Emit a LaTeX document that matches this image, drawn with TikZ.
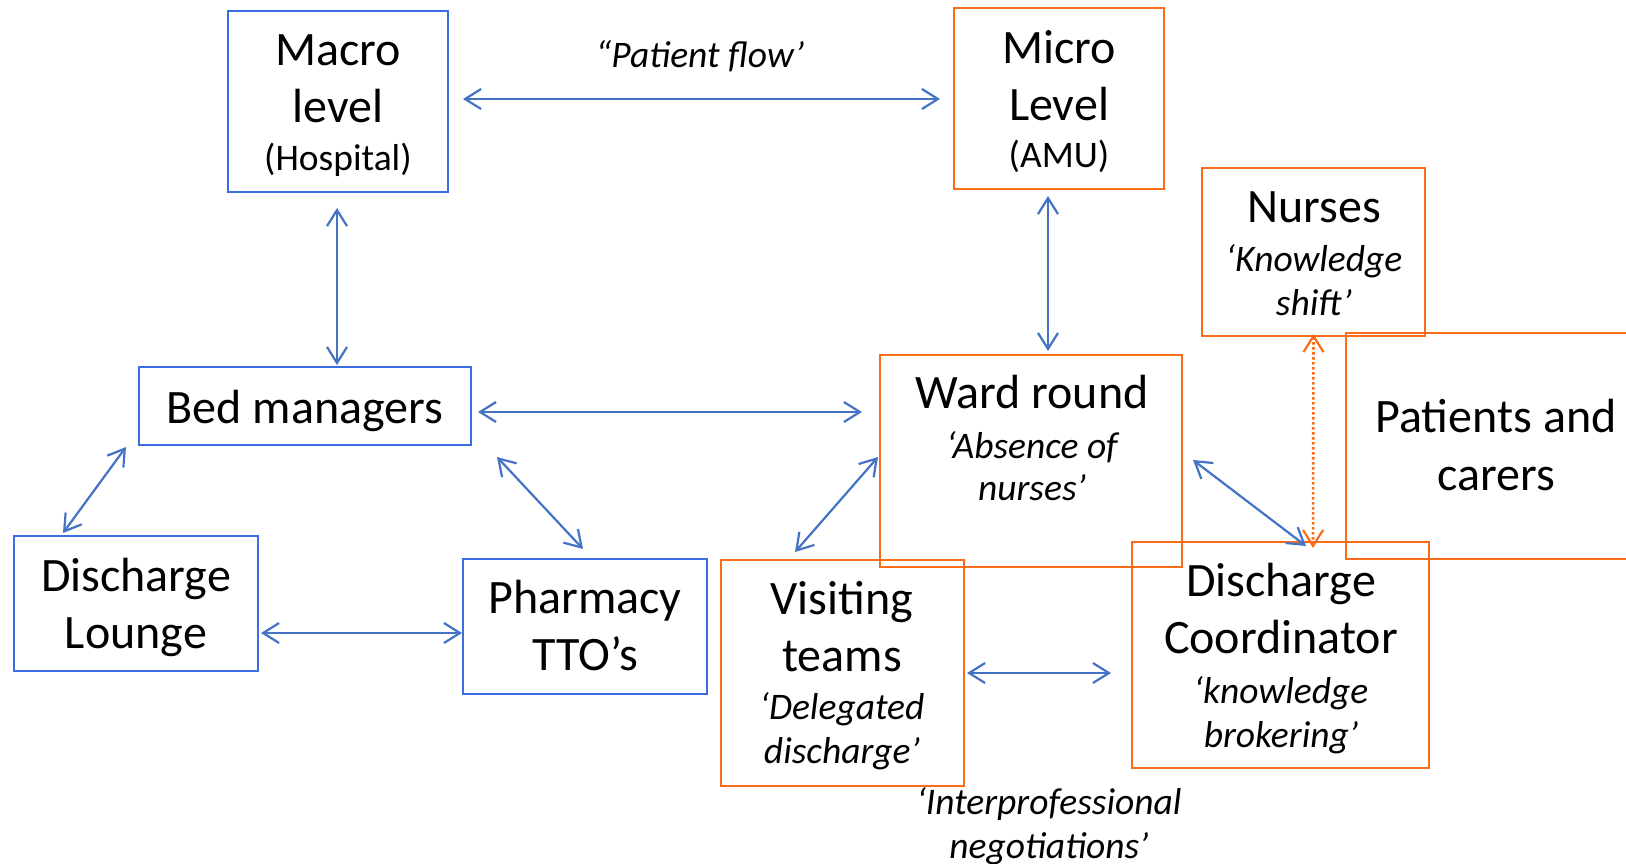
\documentclass[tikz,border=0pt]{standalone}
\usepackage{fontspec}
\setmainfont{Carlito}
\usetikzlibrary{arrows.meta}
\definecolor{boxblue}{RGB}{58,110,226}
\definecolor{arrblue}{RGB}{68,114,196}
\definecolor{orng}{RGB}{252,108,24}
\tikzset{
  bbox/.style={draw=boxblue, line width=2pt, inner sep=0pt},
  obox/.style={draw=orng, line width=2pt, inner sep=0pt},
  barr/.style={draw=arrblue, line width=2.2pt, {Straight Barb[length=16pt,width=20pt,line width=2.2pt]}-{Straight Barb[length=16pt,width=20pt,line width=2.2pt]}},
  oarr/.style={draw=orng, line width=2.6pt, dash pattern=on 2.5pt off 2.5pt, {Straight Barb[length=16pt,width=20pt,line width=2.2pt]}-{Straight Barb[length=16pt,width=20pt,line width=2.2pt]}},
  big/.style={anchor=base, inner sep=0pt, font=\fontsize{48}{56}\selectfont},
  sml/.style={anchor=base, inner sep=0pt, font=\fontsize{37.5}{44}\selectfont},
  ital/.style={anchor=base, inner sep=0pt, font=\fontsize{37.5}{44}\selectfont\itshape},
}
\begin{document}
\begin{tikzpicture}[x=1pt, y=-1pt]
\useasboundingbox (0,0) rectangle (1626,863);
% boxes
\node[bbox, minimum width=220pt, minimum height=181pt] (macro) at (338,101.5) {};
\node[obox, minimum width=210pt, minimum height=181pt] (micro) at (1059,98.5) {};
\node[obox, minimum width=223pt, minimum height=168pt] (nurses) at (1313.5,252) {};
\node[obox, minimum width=294pt, minimum height=226pt] (patients) at (1493,446) {};
\node[bbox, minimum width=332pt, minimum height=78pt] (bed) at (305,406) {};
\node[obox, minimum width=302pt, minimum height=212pt] (ward) at (1031,461) {};
\node[bbox, minimum width=244pt, minimum height=135pt] (lounge) at (136,603.5) {};
\node[bbox, minimum width=244pt, minimum height=135pt] (pharm) at (585,626.5) {};
\node[obox, minimum width=243pt, minimum height=226pt] (visit) at (842.5,673) {};
\node[obox, minimum width=297pt, minimum height=226pt] (dc) at (1280.5,655) {};
% texts
\node[big] (tmacro1) at (338,65) {Macro};
\node[big] (tmacro2) at (338,122) {level};
\node[sml] (tmacro3) at (338,170) {(Hospital)};
\node[big] (tmicro1) at (1059,63) {Micro};
\node[big] (tmicro2) at (1059,120) {Level};
\node[sml] (tmicro3) at (1059,167) {(AMU)};
\node[big] (tnurse1) at (1314,222) {Nurses};
\node[ital] (tnurse2) at (1314,271) {‘Knowledge};
\node[ital] (tnurse3) at (1314,315) {shift’};
\node[big] (tpat1) at (1496,432) {Patients and};
\node[big] (tpat2) at (1496,490) {carers};
\node[big] (tbed) at (305,423) {Bed managers};
\node[big] (tward1) at (1032,408) {Ward round};
\node[ital] (tward2) at (1032,458) {‘Absence of};
\node[ital] (tward3) at (1032,500) {nurses’};
\node[big] (tlounge1) at (136,591) {Discharge};
\node[big] (tlounge2) at (136,648) {Lounge};
\node[big] (tpharm1) at (585,613) {Pharmacy};
\node[big] (tpharm2) at (585,670) {TTO’s};
\node[big] (tvisit1) at (842,614) {Visiting};
\node[big] (tvisit2) at (842,671) {teams};
\node[ital] (tvisit3) at (842,719) {‘Delegated};
\node[ital] (tvisit4) at (842,763) {discharge’};
\node[big] (tdc1) at (1281,596) {Discharge};
\node[big] (tdc2) at (1281,653) {Coordinator};
\node[ital] (tdc3) at (1281,703) {‘knowledge};
\node[ital] (tdc4) at (1281,747) {brokering’};
\node[ital] (tflow) at (700,67) {“Patient flow’};
\node[ital] (tinter1) at (1049,814) {‘Interprofessional};
\node[ital] (tinter2) at (1049,858) {negotiations’};
% connectors
\draw[barr] ([shift={(14,-2.5)}]macro.east) -- ([shift={(-13,0.5)}]micro.west);
\draw[barr] ([shift={(-1,15)}]macro.south) -- ([shift={(32,-1)}]bed.north);
\draw[barr] ([shift={(-11,6)}]micro.south) -- ([shift={(17,-3)}]ward.north);
\draw[barr] ([shift={(6,6)}]bed.east) -- ([shift={(-17,-49)}]ward.west);
\draw[barr] ([shift={(-12,1)}]bed.south west) -- ([shift={(50,-2)}]lounge.north west);
\draw[barr] ([shift={(25,11)}]bed.south east) -- ([shift={(-2,-9)}]pharm.north);
\draw[barr] ([shift={(2,29.5)}]lounge.east) -- ([shift={(0,6.5)}]pharm.west);
\draw[barr] ([shift={(-1,-4)}]ward.west) -- ([shift={(-47.5,-7)}]visit.north);
\draw[barr] ([shift={(10,-1)}]ward.east) -- ([shift={(25.5,5)}]dc.north);
\draw[oarr] ([shift={(0,-3)}]nurses.south) -- ([shift={(32.5,7)}]dc.north);
\draw[barr] ([shift={(2,0)}]visit.east) -- ([shift={(-20,18)}]dc.west);
\end{tikzpicture}
\end{document}
